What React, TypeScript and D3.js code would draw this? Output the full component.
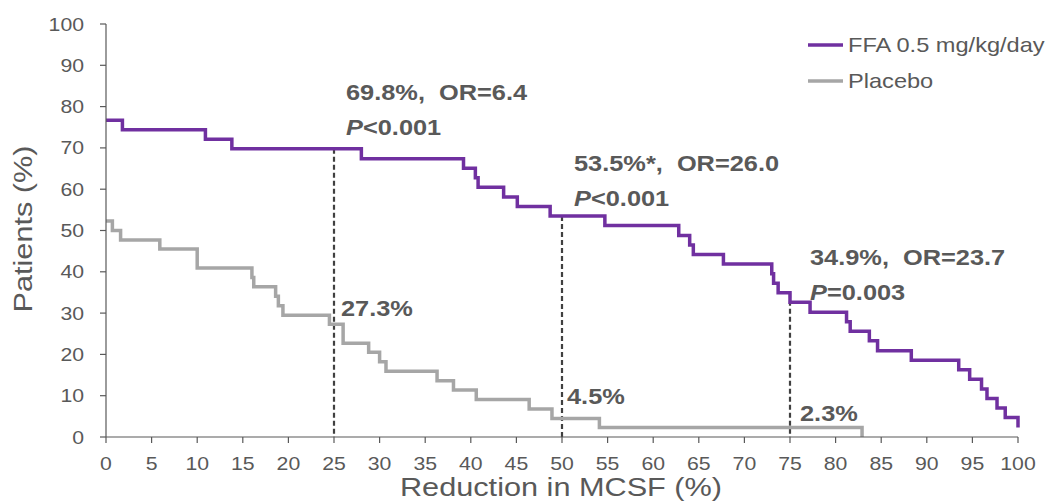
import React from "react";
import * as d3 from "d3";

// FFA 0.5 mg/kg/day: step start (Reduction in MCSF %) and Patients (%)
const ffaX = [0, 1.8, 10.9, 13.8, 28.0, 39.2, 40.5, 40.8, 43.6, 45.1, 48.7, 54.7, 62.8, 64.0, 64.4, 67.7, 73.0, 73.2, 73.7, 75.0, 77.2, 81.2, 81.6, 83.7, 84.6, 88.3, 93.5, 94.7, 96.0, 96.6, 97.7, 98.6, 100];
const ffaY = [76.7, 74.4, 72.1, 69.8, 67.4, 65.1, 62.8, 60.5, 58.1, 55.8, 53.5, 51.2, 48.8, 46.5, 44.2, 41.9, 39.5, 37.2, 34.9, 32.6, 30.2, 27.9, 25.6, 23.3, 20.9, 18.6, 16.3, 14.0, 11.6, 9.3, 7.0, 4.7, 2.3];

// Placebo
const pboX = [0, 0.7, 1.6, 5.9, 10.0, 16.0, 16.2, 18.6, 18.9, 19.4, 24.5, 26.0, 28.8, 30.0, 30.7, 36.3, 38.1, 40.6, 46.4, 48.9, 54.1, 82.9];
const pboY = [52.3, 50.0, 47.7, 45.5, 40.9, 38.6, 36.4, 34.1, 31.8, 29.5, 27.3, 22.7, 20.5, 18.2, 15.9, 13.6, 11.4, 9.1, 6.8, 4.5, 2.3, 0];

const xTicks = d3.range(0, 101, 5);
const yTicks = d3.range(0, 101, 10);

// Cut-off reference lines (x) and FFA value at that cut-off
const cutX = [25, 50, 75];
const cutY = [69.8, 53.5, 34.9];
const ffaLabels = ["69.8%,\u00A0 OR=6.4", "53.5%*,\u00A0 OR=26.0", "34.9%,\u00A0 OR=23.7"];
const pLabels = ["<0.001", "<0.001", "=0.003"];
const pboLabels = ["27.3%", "4.5%", "2.3%"];

const seriesNames = ["FFA 0.5 mg/kg/day", "Placebo"];
const colors = ["#7030A0", "#A6A6A6"];

const W = 1051, H = 504;
const SX = 1.18;
const FONT = "'Liberation Sans', Arial, sans-serif";
const TXT = "#595959";

function T(props: { x: number; y: number; size: number; anchor?: string; bold?: boolean; rotate?: number; children: any; fill?: string }) {
  const { x, y, size, anchor = "start", bold = false, rotate = 0, children, fill = TXT } = props;
  const tr = rotate ? `translate(${x},${y}) rotate(${rotate}) scale(${SX},1)` : `translate(${x},${y}) scale(${SX},1)`;
  return (
    <text transform={tr} fontSize={size} fontFamily={FONT} fontWeight={bold ? "bold" : "normal"} textAnchor={anchor} fill={fill}>
      {children}
    </text>
  );
}

export default function App() {
  const x = d3.scaleLinear().domain([0, 100]).range([106, 1018]);
  const y = d3.scaleLinear().domain([0, 100]).range([437, 24]);
  const line = d3.line<[number, number]>().x((d) => x(d[0])).y((d) => y(d[1])).curve(d3.curveStepAfter);
  const ffa: [number, number][] = ffaX.map((v, i) => [v, ffaY[i]]);
  const pbo: [number, number][] = pboX.map((v, i) => [v, pboY[i]]);

  return (
    <svg width={W} height={H} style={{ position: "absolute", left: 0, top: 0, background: "#fff" }}>
      {/* reference dashed lines */}
      {cutX.map((c, i) => (
        <line key={"c" + i} x1={x(c)} x2={x(c)} y1={y(cutY[i])} y2={y(0)} stroke="#404040" strokeWidth={2.2} strokeDasharray="5,3" />
      ))}
      {/* series */}
      <path d={line(pbo) || ""} fill="none" stroke={colors[1]} strokeWidth={3.5} />
      <path d={line(ffa) || ""} fill="none" stroke={colors[0]} strokeWidth={3.5} />
      {/* axes */}
      <line x1={x(0)} x2={x(0)} y1={y(0)} y2={y(100)} stroke="#595959" strokeWidth={1.2} />
      <line x1={x(0)} x2={x(100)} y1={y(0)} y2={y(0)} stroke="#595959" strokeWidth={1.2} />
      {yTicks.map((t) => (
        <g key={"y" + t}>
          <line x1={x(0) - 6} x2={x(0)} y1={y(t)} y2={y(t)} stroke="#595959" strokeWidth={1.2} />
          <T x={x(0) - 22} y={y(t) + 6.5} size={18} anchor="end">{t}</T>
        </g>
      ))}
      {xTicks.map((t) => (
        <g key={"x" + t}>
          <line x1={x(t)} x2={x(t)} y1={y(0)} y2={y(0) + 6} stroke="#595959" strokeWidth={1.2} />
          <T x={x(t)} y={470} size={18} anchor="middle">{t}</T>
        </g>
      ))}
      <T x={561} y={496} size={26} anchor="middle">Reduction in MCSF (%)</T>
      <T x={32} y={229} size={26} anchor="middle" rotate={-90}>Patients (%)</T>
      {/* annotations */}
      {cutX.map((c, i) => (
        <g key={"a" + i}>
          <T x={x(c) + 12 + (i === 2 ? 8 : 0)} y={[100, 171, 265][i]} size={21.5} bold>{ffaLabels[i]}</T>
          <T x={x(c) + 12 + (i === 2 ? 8 : 0)} y={[135, 206, 300][i]} size={21.5} bold>
            <tspan fontStyle="italic">P</tspan>{pLabels[i]}
          </T>
          <T x={x(c) + [7, 5, 10][i]} y={[316, 404, 421][i]} size={21.5} bold>{pboLabels[i]}</T>
        </g>
      ))}
      {/* legend */}
      {seriesNames.map((s, i) => (
        <g key={"l" + i}>
          <line x1={808} x2={843} y1={45 + i * 36} y2={45 + i * 36} stroke={colors[i]} strokeWidth={3.5} />
          <T x={848} y={52 + i * 36} size={20}>{s}</T>
        </g>
      ))}
    </svg>
  );
}
